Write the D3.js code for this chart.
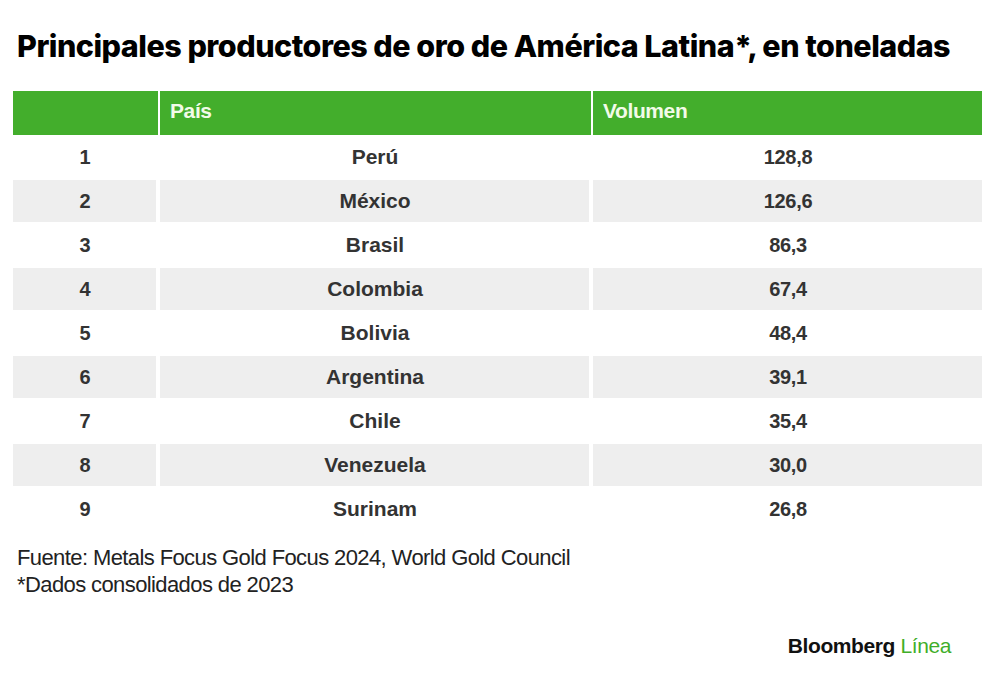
<!DOCTYPE html>
<html>
<head>
<meta charset="utf-8">
<script src="https://cdn.jsdelivr.net/npm/d3@7"></script>
<style>
  body { margin: 0; background: #fff; }
  svg { display: block; }
</style>
</head>
<body>
<svg id="chart" width="1000" height="696"></svg>
<script>
(function () {
	var title = 'Principales productores de oro de América Latina*, en toneladas',
		headers = ['', 'País', 'Volumen'],
		ranks = [1, 2, 3, 4, 5, 6, 7, 8, 9],
		countries = ['Perú', 'México', 'Brasil', 'Colombia', 'Bolivia', 'Argentina', 'Chile', 'Venezuela', 'Surinam'],
		volumes = [128.8, 126.6, 86.3, 67.4, 48.4, 39.1, 35.4, 30.0, 26.8],
		notes = ['Fuente: Metals Focus Gold Focus 2024, World Gold Council', '*Dados consolidados de 2023'],

		green = '#43ae2c',
		stripe = '#eeeeee',
		ink = '#333333',

		// column edges
		colX = [13, 160, 593],
		colW = [145, 431, 389],
		centers = [85, 375, 788],

		fmt = d3.formatLocale({decimal: ',', thousands: '.', grouping: [3], currency: ['', '']}).format('.1f'),

		svg = d3.select('#chart');

	var y = d3.scaleBand()
		.domain(['head'].concat(ranks))
		.range([91, 531])
		.paddingInner(0);

	svg.append('text')
		.attr('x', 17).attr('y', 57)
		.attr('font-family', 'Inter, "Liberation Sans", sans-serif')
		.attr('font-weight', 800)
		.attr('font-size', 30.5)
		.attr('letter-spacing', -0.5)
		.attr('fill', '#000')
		.text(title);

	// header cells
	var head = svg.append('g');
	head.selectAll('rect')
		.data(headers)
		.enter().append('rect')
		.attr('x', function (d, i) { return colX[i]; })
		.attr('y', y('head'))
		.attr('width', function (d, i) { return colW[i]; })
		.attr('height', y.bandwidth())
		.attr('fill', green);
	head.selectAll('line')
		.data([1, 2])
		.enter().append('line')
		.attr('x1', function (i) { return colX[i] - 1; })
		.attr('x2', function (i) { return colX[i] - 1; })
		.attr('y1', y('head')).attr('y2', y('head') + y.bandwidth())
		.attr('stroke', '#fff').attr('stroke-width', 2);
	head.selectAll('text')
		.data(headers)
		.enter().append('text')
		.attr('x', function (d, i) { return colX[i] + 10; })
		.attr('y', y('head') + y.bandwidth() / 2 + 5)
		.attr('font-family', '"Liberation Sans", Arial, sans-serif')
		.attr('font-weight', 700)
		.attr('font-size', 21)
		.attr('letter-spacing', -0.4)
		.attr('fill', '#f2fbe8')
		.text(function (d) { return d; });

	// body rows
	var rows = svg.selectAll('g.row')
		.data(ranks)
		.enter().append('g')
		.attr('class', 'row')
		.attr('transform', function (d) { return 'translate(0,' + y(d) + ')'; });

	rows.filter(function (d, i) { return i % 2 === 1; })
		.selectAll('rect')
		.data([0, 1, 2])
		.enter().append('rect')
		.attr('x', function (i) { return colX[i]; })
		.attr('y', 1)
		.attr('width', function (i) { return i === 2 ? colW[i] : colW[i] - 2; })
		.attr('height', y.bandwidth() - 2)
		.attr('fill', stripe);

	rows.each(function (d, i) {
		var cells = [String(d), countries[i], fmt(volumes[i])];
		d3.select(this).selectAll('text')
			.data(cells)
			.enter().append('text')
			.attr('x', function (t, j) { return centers[j]; })
			.attr('y', y.bandwidth() / 2 + 7)
			.attr('text-anchor', 'middle')
			.attr('font-family', '"Liberation Sans", Arial, sans-serif')
			.attr('font-weight', 700)
			.attr('font-size', function (t, j) { return j === 1 ? 21 : 20; })
			.attr('letter-spacing', function (t, j) { return j === 1 ? 0 : -0.3; })
			.attr('fill', ink)
			.text(function (t) { return t; });
	});

	svg.selectAll('text.note')
		.data(notes)
		.enter().append('text')
		.attr('class', 'note')
		.attr('x', 17)
		.attr('y', function (d, i) { return 565 + i * 27; })
		.attr('font-family', '"Liberation Sans", Arial, sans-serif')
		.attr('font-size', 22)
		.attr('letter-spacing', -0.6)
		.attr('fill', '#222')
		.text(function (d) { return d; });

	var logo = svg.append('text')
		.attr('x', 951).attr('y', 653)
		.attr('text-anchor', 'end')
		.attr('font-family', '"Liberation Sans", Arial, sans-serif')
		.attr('font-weight', 700)
		.attr('font-size', 21)
		.attr('letter-spacing', -0.4);
	logo.append('tspan').attr('fill', '#111').text('Bloomberg ');
	logo.append('tspan').attr('fill', '#3fae29').attr('font-weight', 400).text('Línea');
})();
</script>
</body>
</html>
